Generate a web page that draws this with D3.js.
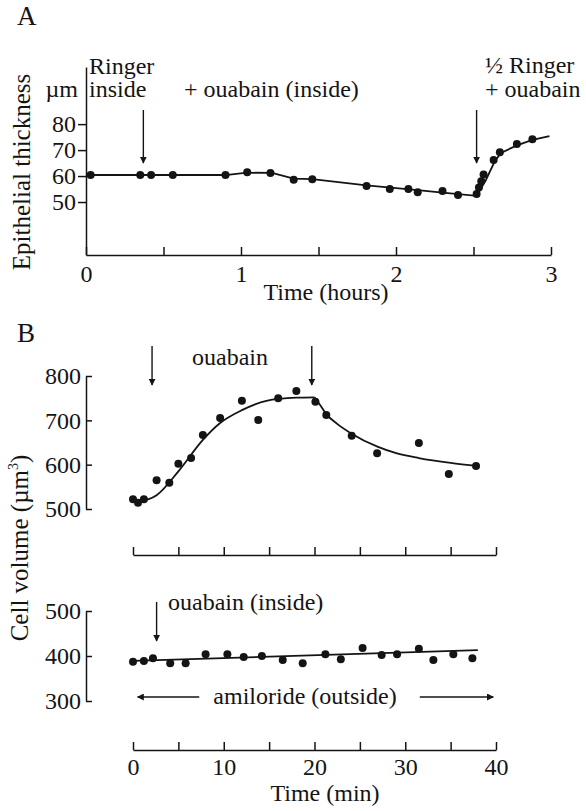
<!DOCTYPE html>
<html>
<head>
<meta charset="utf-8">
<script src="https://cdn.jsdelivr.net/npm/d3@7"></script>
<style>
  html, body { margin: 0; padding: 0; background: #fff; }
  svg { display: block; font-family: 'Liberation Serif', 'Times New Roman', serif; }
</style>
</head>
<body>
<svg id="fig" width="586" height="811"></svg>
<script>
// ---------- Panel A: epithelial thickness (µm) over time (hours) ----------
const thickTime  = [0.03, 0.35, 0.42, 0.56, 0.90, 1.04, 1.19, 1.34, 1.46, 1.81, 1.96, 2.08, 2.14, 2.30, 2.40, 2.52, 2.535, 2.55, 2.565, 2.63, 2.67, 2.78, 2.88];
const thickValue = [60.4, 60.4, 60.4, 60.4, 60.4, 61.5, 61.2, 58.6, 58.8, 56.2, 55.0, 55.0, 53.8, 54.2, 52.7, 53.1, 55.6, 58.0, 60.6, 66.2, 69.2, 72.3, 74.2];
const thickFitTime  = [0, 0.90, 1.04, 1.20, 1.34, 1.46, 1.81, 2.14, 2.30, 2.52, 2.58, 2.64, 2.68, 2.78, 2.88, 2.99];
const thickFitValue = [60.4, 60.4, 61.3, 61.2, 59.0, 58.8, 56.4, 54.6, 53.6, 52.4, 58.5, 66.0, 69.0, 71.8, 73.9, 75.4];
const thickTicksX = [0, 0.5, 1, 1.5, 2, 2.5, 3];
const thickTicksY = [50, 60, 70, 80];
const thickArrows = [0.37, 2.52];

// ---------- Panel B (upper): cell volume (µm³), ouabain ----------
const volTime  = [0, 0.55, 1.2, 2.6, 4.0, 5.0, 6.4, 7.7, 9.6, 12.0, 13.8, 16.0, 18.0, 20.1, 21.3, 24.1, 26.9, 31.5, 34.8, 37.8];
const volValue = [522, 514, 522, 565, 559, 602, 615, 667, 705, 744, 701, 750, 766, 742, 712, 665, 626, 649, 579, 597];
const volRiseTime  = [0.5, 2.6, 5, 7.7, 9.6, 12, 14.7, 18, 20];
const volRiseValue = [516, 531, 585, 656, 694, 723, 744, 751, 752];
const volFallTime  = [20, 20.6, 21.3, 22.5, 24, 27, 29, 31.5, 35, 38];
const volFallValue = [752, 735, 714, 692, 671, 640, 626, 615, 604, 597];
const volTicksY = [500, 600, 700, 800];
const volArrows = [2.1, 19.7];

// ---------- Panel B (lower): cell volume, ouabain inside + amiloride outside ----------
const ctrlTime  = [0, 1.2, 2.2, 4.1, 5.8, 8.0, 10.4, 12.2, 14.2, 16.5, 18.7, 21.2, 22.9, 25.3, 27.4, 29.1, 31.5, 33.1, 35.3, 37.4];
const ctrlValue = [387, 389, 395, 384, 384, 404, 404, 398, 400, 391, 384, 404, 393, 418, 402, 404, 416, 391, 404, 395];
const ctrlFitTime  = [0, 38];
const ctrlFitValue = [389, 413];
const ctrlTicksY = [300, 400, 500];
const ctrlArrows = [2.6];
const amilorideSpan = [0.5, 7.3, 31.6, 39.7];   // left arrow tip/tail, right arrow tail/tip (min)
const minTicks = [0, 5, 10, 15, 20, 25, 30, 35, 40];

const INK = "#141414";
const FS = 24;
const svg = d3.select("#fig");

// arrow head marker
svg.append("defs").append("marker")
  .attr("id", "head").attr("viewBox", "0 0 10 10")
  .attr("refX", 9).attr("refY", 5)
  .attr("markerWidth", 7).attr("markerHeight", 7)
  .attr("markerUnits", "userSpaceOnUse")
  .attr("orient", "auto")
  .append("path").attr("d", "M0,0 L10,5 L0,10 Z").attr("fill", INK);

function styleAxis(g) {
  g.selectAll("path, line").attr("stroke", INK).attr("stroke-width", 1.5);
  g.selectAll("text").attr("fill", INK).attr("font-size", FS)
    .attr("font-family", "'Liberation Serif', 'Times New Roman', serif");
}

function label(txt, x, y, opts = {}) {
  return svg.append("text").attr("x", x).attr("y", y)
    .attr("font-size", opts.size || FS).attr("fill", INK)
    .attr("text-anchor", opts.anchor || "start").text(txt);
}

function arrowDown(x, y0, y1) {
  svg.append("line").attr("x1", x).attr("x2", x).attr("y1", y0).attr("y2", y1)
    .attr("stroke", INK).attr("stroke-width", 1.4).attr("marker-end", "url(#head)");
}

// ================= Panel A =================
const xA = d3.scaleLinear().domain([0, 3]).range([86, 551]);
const yA = d3.scaleLinear().domain([29.6, 102]).range([255, 67]);

svg.append("g").attr("transform", `translate(0,${yA(29.6)})`)
  .call(d3.axisBottom(xA).tickValues(thickTicksX).tickSizeInner(-8).tickSizeOuter(0)
    .tickPadding(10).tickFormat(d => Number.isInteger(d) ? d : ""))
  .call(styleAxis);

svg.append("g").attr("transform", `translate(${xA(0)},0)`)
  .call(d3.axisLeft(yA).tickValues(thickTicksY).tickSizeInner(8).tickSizeOuter(0).tickPadding(2))
  .call(styleAxis);

svg.append("path")
  .datum(thickFitTime.map((t, i) => [t, thickFitValue[i]]))
  .attr("fill", "none").attr("stroke", INK).attr("stroke-width", 1.8)
  .attr("d", d3.line().x(d => xA(d[0])).y(d => yA(d[1])));

svg.append("g").selectAll("circle")
  .data(thickTime.map((t, i) => [t, thickValue[i]]))
  .join("circle").attr("cx", d => xA(d[0])).attr("cy", d => yA(d[1]))
  .attr("r", 4).attr("fill", INK);

thickArrows.forEach(t => arrowDown(xA(t), 110, 163));

label("A", 17, 25, { size: 27 });
label("Ringer", 89, 74);
label("inside", 89, 97);
label("µm", 78, 97, { anchor: "end" });
label("+ ouabain (inside)", 184, 97);
label("½ Ringer", 485, 73);
label("+ ouabain", 485, 97);
label("Time (hours)", 326, 300, { anchor: "middle" });
svg.append("text").attr("transform", "translate(30,172) rotate(-90)")
  .attr("text-anchor", "middle").attr("font-size", 25).attr("fill", INK)
  .text("Epithelial thickness");

// ================= Panel B =================
const xB = d3.scaleLinear().domain([0, 40]).range([133, 496]);
const yB = d3.scaleLinear().domain([500, 800]).range([509, 376]);
const yC = d3.scaleLinear().domain([300, 500]).range([701, 611]);

// upper panel
svg.append("g").attr("transform", "translate(0,555)")
  .call(d3.axisBottom(xB).tickValues(minTicks).tickSizeInner(-8).tickSizeOuter(0).tickFormat(""))
  .call(styleAxis);

svg.append("g").attr("transform", `translate(86,0)`)
  .call(d3.axisLeft(yB).tickValues(volTicksY).tickSizeInner(-6).tickSizeOuter(0).tickPadding(5))
  .call(styleAxis);

const lineB = d3.line().x(d => xB(d[0])).y(d => yB(d[1])).curve(d3.curveMonotoneX);
[[volRiseTime, volRiseValue], [volFallTime, volFallValue]].forEach(([ts, vs]) => {
  svg.append("path").datum(ts.map((t, i) => [t, vs[i]]))
    .attr("fill", "none").attr("stroke", INK).attr("stroke-width", 1.8).attr("d", lineB);
});

svg.append("g").selectAll("circle")
  .data(volTime.map((t, i) => [t, volValue[i]]))
  .join("circle").attr("cx", d => xB(d[0])).attr("cy", d => yB(d[1]))
  .attr("r", 4).attr("fill", INK);

volArrows.forEach(t => arrowDown(xB(t), 346, 385));
label("ouabain", 192, 365);
label("B", 17, 342, { size: 27 });

// lower panel
svg.append("g").attr("transform", "translate(0,750)")
  .call(d3.axisBottom(xB).tickValues(minTicks).tickSizeInner(-8).tickSizeOuter(0)
    .tickPadding(8).tickFormat(d => d % 10 === 0 ? d : ""))
  .call(styleAxis);

svg.append("g").attr("transform", `translate(86,0)`)
  .call(d3.axisLeft(yC).tickValues(ctrlTicksY).tickSizeInner(-6).tickSizeOuter(0).tickPadding(5))
  .call(styleAxis);

svg.append("path").datum(ctrlFitTime.map((t, i) => [t, ctrlFitValue[i]]))
  .attr("fill", "none").attr("stroke", INK).attr("stroke-width", 1.8)
  .attr("d", d3.line().x(d => xB(d[0])).y(d => yC(d[1])));

svg.append("g").selectAll("circle")
  .data(ctrlTime.map((t, i) => [t, ctrlValue[i]]))
  .join("circle").attr("cx", d => xB(d[0])).attr("cy", d => yC(d[1]))
  .attr("r", 4).attr("fill", INK);

ctrlArrows.forEach(t => arrowDown(xB(t), 602, 641));
label("ouabain (inside)", 168, 610);

// amiloride span arrows
[[amilorideSpan[1], amilorideSpan[0]], [amilorideSpan[2], amilorideSpan[3]]].forEach(([a, b]) => {
  svg.append("line").attr("x1", xB(a)).attr("x2", xB(b)).attr("y1", 697).attr("y2", 697)
    .attr("stroke", INK).attr("stroke-width", 1.4).attr("marker-end", "url(#head)");
});
label("amiloride (outside)", 305, 704, { anchor: "middle" });
label("Time (min)", 325, 801, { anchor: "middle" });

const cv = svg.append("text").attr("transform", "translate(28,548) rotate(-90)")
  .attr("text-anchor", "middle").attr("font-size", 25).attr("fill", INK);
cv.append("tspan").text("Cell volume (µm");
cv.append("tspan").attr("font-size", 14).attr("dy", -10).text("3");
cv.append("tspan").attr("dy", 10).text(")");
</script>
</body>
</html>
